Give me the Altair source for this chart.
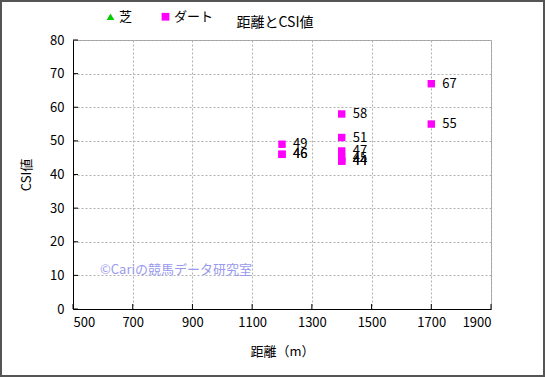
import altair as alt
import pandas as pd

# data
dist = [1200, 1200, 1200, 1400, 1400, 1400, 1400, 1400, 1400, 1700, 1700]
csi = [49, 46, 46, 58, 51, 47, 45, 44, 44, 67, 55]
surface = ["ダート"] * len(dist)
series = ["芝", "ダート"]
series_colors = ["#00cc00", "#ff00ff"]
series_shapes = ["triangle-up", "square"]
x_ticks = [500, 700, 900, 1100, 1300, 1500, 1700, 1900]
y_ticks = [0, 10, 20, 30, 40, 50, 60, 70, 80]
title_text = "距離とCSI値"
watermark = "©Cariの競馬データ研究室"

df = pd.DataFrame({"dist": dist, "csi": csi, "surface": surface})
xt = pd.DataFrame({"t": x_ticks})
yt = pd.DataFrame({"t": y_ticks})

FONT = "Noto Sans CJK JP"
W, H = 418, 269

xs = alt.Scale(domain=[500, 1900], nice=False, zero=False)
ys = alt.Scale(domain=[0, 80], nice=False)

xaxis = alt.Axis(values=x_ticks, format="d", title="距離（m）", grid=True, gridDash=[2, 2],
                 gridColor="#b0b0b0", labelOverlap=False,
                 ticks=False, labelPadding=7, titlePadding=16, domainColor="#000000",
                 labelFontSize=13, titleFontSize=13, labelFont=FONT, titleFont=FONT,
                 labelColor="#000", titleColor="#000", titleFontWeight="normal")
yaxis = alt.Axis(values=y_ticks, format="d", title="CSI値", grid=True, gridDash=[2, 2],
                 gridColor="#b0b0b0", labelOverlap=False,
                 ticks=False, labelPadding=9, titlePadding=16, domainColor="#000000",
                 labelFontSize=13, titleFontSize=13, labelFont=FONT, titleFont=FONT,
                 labelColor="#000", titleColor="#000", titleFontWeight="normal")

color = alt.Color("surface:N", scale=alt.Scale(domain=series, range=series_colors),
                  legend=alt.Legend(orient="none", legendX=31, legendY=-30, direction="horizontal",
                                    title=None, labelFont=FONT, labelFontSize=13, symbolSize=60,
                                    symbolStrokeWidth=0, columnPadding=26, labelOffset=2,
                                    labelColor="#000"))
shape = alt.Shape("surface:N", scale=alt.Scale(domain=series, range=series_shapes), legend=None)

points = alt.Chart(df).mark_point(filled=True, size=55, opacity=1).encode(
    x=alt.X("dist:Q", scale=xs, axis=xaxis),
    y=alt.Y("csi:Q", scale=ys, axis=yaxis),
    color=color,
    shape=shape,
)

labels = alt.Chart(df).mark_text(align="left", baseline="middle", dx=11, fontSize=13, font=FONT,
                                 color="#000").encode(
    x=alt.X("dist:Q", scale=xs, axis=xaxis), y=alt.Y("csi:Q", scale=ys, axis=yaxis), text="csi:Q")

xtick = alt.Chart(xt).mark_rule(color="#000").encode(
    x=alt.X("t:Q", scale=xs, axis=xaxis), y=alt.value(H), y2=alt.value(H - 5))
ytick = alt.Chart(yt).mark_rule(color="#000").encode(
    y=alt.Y("t:Q", scale=ys, axis=yaxis), x=alt.value(0), x2=alt.value(5))

wm = alt.Chart(pd.DataFrame({"t": [watermark]})).mark_text(
    align="left", baseline="middle", fontSize=13, font=FONT, color="#9a9aee").encode(
    x=alt.value(27), y=alt.value(230), text="t:N")

ttl = alt.Chart(pd.DataFrame({"t": [title_text]})).mark_text(
    align="center", baseline="middle", fontSize=14, font=FONT, color="#000").encode(
    x=alt.value(202), y=alt.value(-17), text="t:N")

border = alt.Chart(pd.DataFrame({"a": [0]})).mark_rect(fill=None, stroke="#555555", strokeWidth=2).encode(
    x=alt.value(-72), x2=alt.value(W + 53), y=alt.value(-39), y2=alt.value(H + 67))

chart = alt.layer(points, border, xtick, ytick, wm, ttl, labels).properties(
    width=W, height=H,
    padding={"left": 73, "top": 40, "right": 54, "bottom": 68},
    autosize=alt.AutoSizeParams(type="none"),
    background="#ffffff",
).configure_view(stroke="#a0a0a0", strokeWidth=1)

chart.save("out.html", embed_options={"renderer": "svg", "actions": False})
